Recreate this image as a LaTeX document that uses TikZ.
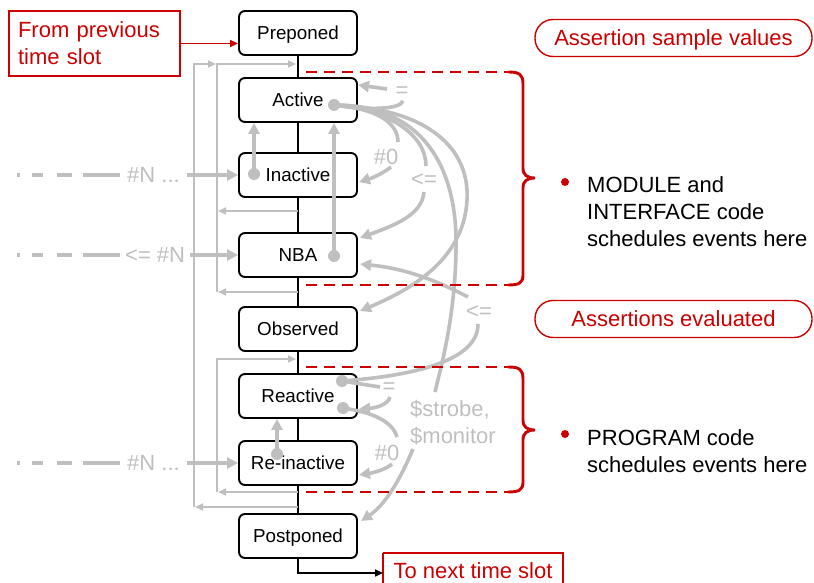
\documentclass[tikz,border=0pt]{standalone}
\usepackage{fontspec}
\setmainfont{Liberation Sans}
\usetikzlibrary{arrows.meta,calc}
\definecolor{lg}{RGB}{191,191,191}
\definecolor{rd}{RGB}{204,0,0}
\begin{document}
\begin{tikzpicture}[x=1pt,y=-1pt,
 stagebox/.style={draw=black,line width=1.9pt,rounded corners=6pt,fill=white,minimum width=118pt,minimum height=44pt,inner sep=0pt,font=\fontsize{18.8}{22}\selectfont,text height=16.2pt,text depth=2.7pt},
 redbox/.style={draw=rd,line width=1.5pt,text=rd,font=\fontsize{22}{27}\selectfont,inner sep=0pt},
 pill/.style={draw=rd,line width=1.4pt,rounded corners=18pt,text=rd,minimum width=277pt,minimum height=37pt,font=\fontsize{22}{27}\selectfont,inner sep=0pt,text height=18.9pt,text depth=3.2pt},
 thinfb/.style={draw=lg,line width=1.9pt},
 thinarr/.style={thinfb,-{Triangle[length=8pt,width=7pt]}},
 thickln/.style={draw=lg,line width=3.6pt},
 thickarr/.style={thickln,-{Triangle[length=11pt,width=11pt]}},
 glabel/.style={text=lg,font=\fontsize{22}{27}\selectfont,inner sep=0pt},
 gdot/.style={circle,fill=lg,inner sep=0pt,minimum size=12pt},
 rdot/.style={circle,fill=rd,inner sep=0pt,minimum size=8pt},
 reddash/.style={draw=rd,line width=2.9pt,dash pattern=on 11pt off 7pt},
 bracepath/.style={draw=rd,line width=2.9pt},
 bodytext/.style={font=\fontsize{22}{27}\selectfont,align=left,inner sep=0pt},
 leftdash/.style={thickln,dash pattern=on 3pt off 12pt on 11pt off 14pt on 15pt off 11pt on 37pt off 100pt},
]
\useasboundingbox (0,0) rectangle (814,583);

% stages
\node[stagebox] (pre) at (298,33) {Preponed};
\node[stagebox] (act) at (298,100) {Active};
\node[stagebox] (ina) at (298,175) {Inactive};
\node[stagebox] (nba) at (298,255) {NBA};
\node[stagebox] (obs) at (298,329) {Observed};
\node[stagebox] (rea) at (298,396) {Reactive};
\node[stagebox] (rei) at (298,463) {Re-inactive};
\node[stagebox] (pos) at (298,536) {Postponed};

\foreach \a/\b in {pre/act,act/ina,ina/nba,nba/obs,obs/rea,rea/rei,rei/pos}
  \draw[line width=1.6pt] (\a.south) -- (\b.north);

% red boxes
\node[redbox,minimum width=171pt,minimum height=65pt,text width=153pt,inner xsep=9pt,align=left] (prev) at (94.5,43.5) {From previous\\time slot};
\draw[draw=rd,line width=1.5pt,-{Triangle[length=8pt,width=7pt]}] (prev.east) -- (pre.west |- prev.east);
\draw[draw=rd,line width=1.5pt] (383,553) -- (383,600) (563,600) -- (563,553) -- (383,553);
\coordinate (nxtL) at (383,573);
\node[text=rd,font=\fontsize{22}{27}\selectfont,inner sep=0pt] (nxt) at (473,571) {To next time slot};
\draw[line width=1.6pt,-{Triangle[length=8pt,width=7pt]}] (pos.south) |- (nxtL);

% thin feedback lines
\draw[thinarr] (298,507) -- (195,507);
\draw[thinarr] (194,507) -- (194,64) -- (216,64);
\draw[thinarr] (217,292) -- (217,64) -- (296,64);
\draw[thinarr] (298,211) -- (218,211);
\draw[thinarr] (298,292) -- (218,292);
\draw[thinarr] (217,492) -- (217,359) -- (296,359);
\draw[thinarr] (298,492) -- (218,492);

% left inputs
\draw[leftdash] (17,175) -- (120,175);
\node[glabel,anchor=west] (n1) at (127,175) {\#N ...};
\draw[thickarr,shorten <=7pt] (n1.east) -- (ina.west);
\draw[leftdash] (17,255) -- (120,255);
\node[glabel,anchor=west] (n2) at (125,255) {<= \#N};
\draw[thickarr,shorten <=5pt] (n2.east) -- (nba.west);
\draw[leftdash] (17,463) -- (120,463);
\node[glabel,anchor=west] (n3) at (127,463) {\#N ...};
\draw[thickarr,shorten <=7pt] (n3.east) -- (rei.west);

% internal arrows
\node[gdot] (d1) at (254,174) {};
\draw[thickarr] (d1.center) -- (d1.center |- act.south);
\node[gdot] (d2) at (334,256) {};
\draw[thickarr] (d2.center) -- (d2.center |- act.south);
\node[gdot] (d3) at (277,454) {};
\draw[thickarr] (d3.center) -- (d3.center |- rea.south);

% Active curves
\node[gdot] (dA) at (334,105) {};
\draw[thickln] (dA.center) .. controls (365,110) and (400,110) .. (403,101);
\node[glabel] (eq1) at (402,92) {=};
\draw[thickarr] (387,89) -- (358,85);

\draw[thickln] (dA.center) .. controls (375,108) and (398,122) .. (398,142);
\node[glabel] (h1) at (386,157) {\#0};
\draw[thickarr] (391,167) .. controls (382,174) and (372,178) .. (359,182);

\draw[thickln] (dA.center) .. controls (390,110) and (426,135) .. (426,166);
\node[glabel] (le1) at (424,180) {<=};
\draw[thickarr] (424,192) .. controls (422,215) and (395,225) .. (360,238);

\draw[thickarr] (dA.center) .. controls (430,108) and (470,150) .. (467,200) .. controls (464,260) and (410,290) .. (360,311);

\draw[thickln] (dA.center) .. controls (425,105) and (458,170) .. (456,250) .. controls (455,320) and (440,370) .. (435,392);
\node[glabel,anchor=west,align=left] (sm) at (410,423) {\$strobe,\\\$monitor};
\draw[thickarr] (413,449) .. controls (400,480) and (385,505) .. (361,521);

% Reactive curves
\node[gdot] (dR1) at (342,381) {};
\node[gdot] (dR2) at (343,408) {};
\draw[thickarr] (468,297) .. controls (430,277) and (400,268) .. (360,264);
\node[glabel] (le2) at (479,312) {<=};
\draw[thickln] (478,324) .. controls (478,362) and (410,376) .. (dR1.center);

\draw[thickln] (dR1.center) -- (380,387);
\node[glabel] (eq2) at (389,388) {=};
\draw[thickarr] (390,397) .. controls (388,405) and (375,408) .. (359,409);

\draw[thickln] (dR2.center) .. controls (370,412) and (392,420) .. (397,437);
\node[glabel] (h2) at (387,453) {\#0};
\draw[thickarr] (392,464) .. controls (385,470) and (372,473) .. (359,475);

% red dashed regions with braces
\draw[reddash] (306,72) -- (508,72);
\draw[bracepath] (508,72) .. controls (519,72) and (523,74) .. (523,84) -- (523,168) .. controls (523,175) and (527,178) .. (535,178) .. controls (527,178) and (523,181) .. (523,188) -- (523,275) .. controls (523,283) and (519,285) .. (508,285);
\draw[reddash] (306,285) -- (508,285);

\draw[reddash] (306,367) -- (508,367);
\draw[bracepath] (508,367) .. controls (519,367) and (523,369) .. (523,379) -- (523,420) .. controls (523,427) and (527,430) .. (535,430) .. controls (527,430) and (523,433) .. (523,440) -- (523,482) .. controls (523,490) and (519,492) .. (508,492);
\draw[reddash] (306,492) -- (508,492);

% pills
\node[pill] (asv) at (673.5,38) {Assertion sample values};
\node[pill] (aev) at (673.5,319) {Assertions evaluated};

% bullets
\node[rdot] (b1) at (565,182) {};
\node[bodytext,anchor=west] (t1) at (587,212) {MODULE and\\INTERFACE code\\schedules events here};
\node[rdot] (b2) at (565,434) {};
\node[bodytext,anchor=west] (t2) at (587,451) {PROGRAM code\\schedules events here};
\end{tikzpicture}
\end{document}
